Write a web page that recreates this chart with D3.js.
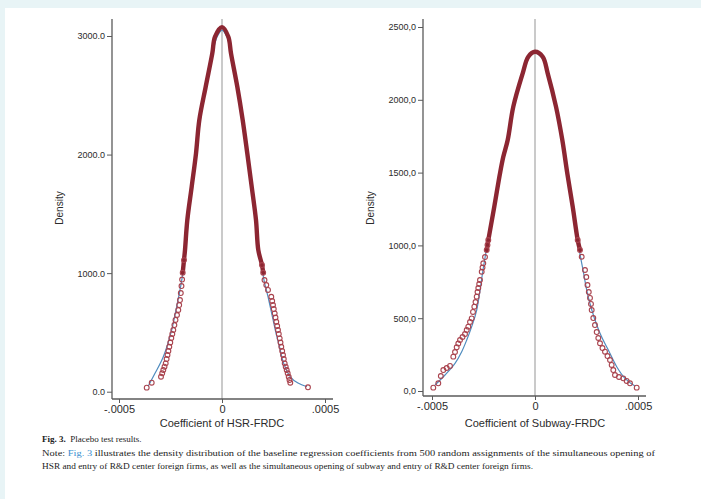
<!DOCTYPE html>
<html>
	<head>
		<style>
			body {
				margin: 0;
				background: #e8f4f6;
			}

			#chart {
				display: block;
			}
		</style>
	</head>
	<body>
		<svg id="chart" width="701" height="499"></svg>
		<script src="https://cdnjs.cloudflare.com/ajax/libs/d3/7.8.5/d3.min.js"></script>

		<script>
			// HSR-FRDC: kernel density of placebo coefficients
			let hsrKdeX = [
				-3.655e-4, -3.412e-4, -2.961e-4, -2.903e-4, -2.849e-4, -2.791e-4,
				-2.733e-4, -2.689e-4, -2.645e-4, -2.602e-4, -2.558e-4, -2.51e-4,
				-2.461e-4, -2.412e-4, -2.364e-4, -2.311e-4, -2.257e-4, -2.184e-4,
				-2.121e-4, -2.078e-4, -2.039e-4, -2.0e-4, -1.966e-4, -1.937e-4,
				-1.908e-4, -1.845e-4, -1.796e-4, -1.684e-4, -1.471e-4, -1.262e-4,
				-1.102e-4, -0.791e-4, -0.471e-4, -0.34e-4, 0, 0.306e-4, 0.437e-4,
				0.743e-4, 1.005e-4, 1.228e-4, 1.442e-4, 1.65e-4, 1.762e-4,
				1.942e-4, 2.0e-4, 2.063e-4, 2.15e-4, 2.233e-4, 2.393e-4, 2.437e-4,
				2.476e-4, 2.514e-4, 2.558e-4, 2.597e-4, 2.636e-4, 2.679e-4,
				2.718e-4, 2.757e-4, 2.801e-4, 2.84e-4, 2.878e-4, 2.922e-4,
				2.961e-4, 3.0e-4, 3.043e-4, 3.092e-4, 3.141e-4, 3.189e-4,
				3.238e-4, 3.276e-4, 3.315e-4, 4.174e-4,
			];
			let hsrKdeY = [
				34, 76, 126, 155, 183, 211, 239, 276, 309, 343, 379, 415, 453, 487,
				520, 562, 605, 647, 689, 731, 773, 832, 891, 946, 1003, 1110, 1195,
				1448, 1729, 2010, 2291, 2572, 2853, 2993, 3075, 2993, 2853, 2572,
				2291, 2010, 1729, 1448, 1195, 1068, 1003, 942, 900, 858, 801, 765,
				731, 697, 661, 626, 590, 554, 520, 487, 450, 415, 379, 343, 309,
				276, 239, 211, 183, 155, 126, 99, 76, 37,
			];
			// HSR-FRDC: normal density overlay
			let hsrNormX = [
				-3.577e-4, -3.252e-4, -2.849e-4, -2.442e-4, -2.233e-4, -2.039e-4,
				-1.893e-4, -1.747e-4, -1.578e-4, -1.408e-4, -1.214e-4, -1.044e-4,
				-0.777e-4, -0.461e-4, -0.243e-4, 0, 0.243e-4, 0.437e-4, 0.728e-4,
				0.995e-4, 1.214e-4, 1.432e-4, 1.626e-4, 1.747e-4, 1.908e-4,
				2.039e-4, 2.233e-4, 2.412e-4, 2.587e-4, 2.791e-4, 2.995e-4,
				3.315e-4, 3.689e-4, 4.126e-4,
			];
			let hsrNormY = [
				48, 155, 295, 520, 689, 858, 1009, 1237, 1540, 1785, 2038, 2308,
				2578, 2847, 2991, 3050, 2991, 2847, 2578, 2308, 2038, 1785, 1540,
				1237, 1083, 942, 801, 661, 520, 379, 239, 126, 73, 42,
			];

			// Subway-FRDC: kernel density
			let subKdeX = [
				-4.937e-4, -4.694e-4, -4.572e-4, -4.451e-4, -4.288e-4, -4.126e-4,
				-3.966e-4, -3.883e-4, -3.801e-4, -3.723e-4, -3.641e-4, -3.519e-4,
				-3.398e-4, -3.315e-4, -3.238e-4, -3.155e-4, -3.073e-4, -3.01e-4,
				-2.946e-4, -2.888e-4, -2.83e-4, -2.791e-4, -2.752e-4, -2.709e-4,
				-2.67e-4, -2.587e-4, -2.548e-4, -2.51e-4, -2.427e-4, -2.344e-4,
				-2.306e-4, -2.267e-4, -1.976e-4, -1.699e-4, -1.539e-4, -1.325e-4,
				-1.053e-4, -0.597e-4, -0.325e-4, 0, 0.374e-4, 0.616e-4, 1.019e-4,
				1.325e-4, 1.568e-4, 1.83e-4, 2.073e-4, 2.184e-4, 2.267e-4,
				2.427e-4, 2.49e-4, 2.548e-4, 2.611e-4, 2.67e-4, 2.718e-4, 2.752e-4,
				2.83e-4, 2.912e-4, 2.995e-4, 3.073e-4, 3.155e-4, 3.276e-4,
				3.398e-4, 3.519e-4, 3.641e-4, 3.722e-4, 3.801e-4, 3.883e-4,
				4.077e-4, 4.286e-4, 4.451e-4, 4.611e-4, 4.937e-4,
			];
			let subKdeY = [
				23, 53, 103, 144, 158, 172, 236, 268, 300, 326, 350, 371, 391, 419,
				442, 474, 499, 543, 579, 611, 648, 680, 707, 735, 762, 819, 848, 877,
				920, 968, 1003, 1037, 1266, 1495, 1609, 1724, 1953, 2182, 2296, 2330,
				2296, 2182, 1953, 1724, 1495, 1266, 1037, 968, 922, 831, 783, 728,
				680, 639, 598, 556, 501, 453, 405, 364, 328, 295, 270, 240, 213, 179,
				144, 110, 96, 87, 69, 53, 23,
			];
			// Subway-FRDC: normal density overlay
			let subNormX = [
				-4.854e-4, -4.369e-4, -3.883e-4, -3.558e-4, -3.315e-4, -3.073e-4,
				-2.83e-4, -2.524e-4, -2.281e-4, -1.99e-4, -1.699e-4, -1.335e-4,
				-1.068e-4, -0.607e-4, -0.34e-4, 0, 0.34e-4, 0.607e-4, 1.019e-4,
				1.311e-4, 1.553e-4, 1.82e-4, 2.063e-4, 2.33e-4, 2.621e-4, 3.155e-4,
				3.558e-4, 3.966e-4, 4.369e-4, 4.854e-4,
			];
			let subNormY = [
				41, 110, 190, 270, 350, 442, 556, 831, 1037, 1271, 1504, 1724, 1951,
				2177, 2287, 2321, 2287, 2177, 1951, 1724, 1497, 1264, 1037, 831, 625,
				396, 282, 167, 87, 34,
			];

			let xTicks = [-0.0005, 0, 0.0005];
			let xTickLabels = ['-.0005', '0', '.0005'];
			let hsrYTicks = [0, 1000, 2000, 3000];
			let hsrYTickLabels = ['0.0', '1000.0', '2000.0', '3000.0'];
			let subYTicks = [0, 500, 1000, 1500, 2000, 2500];
			let subYTickLabels = ['0,0', '500,0', '1000,0', '1500,0', '2000,0', '2500,0'];

			let colors = {
				kde: '#8c2632',
				kdeMarker: '#a9434e',
				normal: '#4f8cbf',
				zero: '#b4b4b4',
				axis: '#5a5a5a',
				text: '#2b2b2b',
				link: '#3a8fcf',
			};

			let svg = d3.select('#chart');

			svg.append('rect')
				.attr('x', 5)
				.attr('y', 8)
				.attr('width', 696)
				.attr('height', 491)
				.attr('fill', '#fff');

			let panels = [
				{
					kdeX: hsrKdeX, kdeY: hsrKdeY, normX: hsrNormX, normY: hsrNormY,
					yTicks: hsrYTicks, yLabels: hsrYTickLabels, yMax: 3000,
					xRange: [119, 325], yRange: [391.7, 36],
					axisX: 112, axisY: 399, top: 19, right: 333,
					title: 'Coefficient of HSR-FRDC', yTitleX: 59,
				},
				{
					kdeX: subKdeX, kdeY: subKdeY, normX: subNormX, normY: subNormY,
					yTicks: subYTicks, yLabels: subYTickLabels, yMax: 2500,
					xRange: [432, 638], yRange: [391, 27],
					axisX: 423, axisY: 396, top: 19, right: 646,
					title: 'Coefficient of Subway-FRDC', yTitleX: 370,
				},
			];

			panels.forEach(drawPanel);

			function drawPanel(p) {
				let x = d3.scaleLinear().domain([-0.0005, 0.0005]).range(p.xRange);
				let y = d3.scaleLinear().domain([0, p.yMax]).range(p.yRange);

				let g = svg.append('g');

				// reference line at zero
				g.append('line')
					.attr('x1', x(0))
					.attr('x2', x(0))
					.attr('y1', p.top)
					.attr('y2', p.axisY)
					.attr('stroke', colors.zero)
					.attr('stroke-width', 1.4);

				// y axis
				let yAxis = g.append('g')
					.attr('transform', `translate(${p.axisX},0)`)
					.call(
						d3.axisLeft(y)
							.tickValues(p.yTicks)
							.tickFormat((d, i) => p.yLabels[i])
							.tickSize(5)
							.tickPadding(2)
					);
				yAxis.select('.domain').remove();
				yAxis.append('line')
					.attr('y1', p.top)
					.attr('y2', p.axisY)
					.attr('stroke', colors.axis)
					.attr('stroke-width', 1.3);

				// x axis
				let xAxis = g.append('g')
					.attr('transform', `translate(0,${p.axisY})`)
					.call(
						d3.axisBottom(x)
							.tickValues(xTicks)
							.tickFormat((d, i) => xTickLabels[i])
							.tickSize(4)
							.tickPadding(2)
					);
				xAxis.select('.domain').remove();
				xAxis.append('line')
					.attr('x1', p.axisX)
					.attr('x2', p.right)
					.attr('stroke', colors.axis)
					.attr('stroke-width', 1.3);

				g.selectAll('.tick line')
					.attr('stroke', colors.axis)
					.attr('stroke-width', 1);
				yAxis.selectAll('text')
					.attr('font-family', 'Liberation Sans, Arial, sans-serif')
					.attr('font-size', 9)
					.attr('fill', colors.text);
				xAxis.selectAll('text')
					.attr('font-family', 'Liberation Sans, Arial, sans-serif')
					.attr('font-size', 11)
					.attr('fill', colors.text);

				// axis titles
				g.append('text')
					.attr('x', (p.xRange[0] + p.xRange[1]) / 2)
					.attr('y', 427)
					.attr('text-anchor', 'middle')
					.attr('font-family', 'Liberation Sans, Arial, sans-serif')
					.attr('font-size', 11)
					.attr('fill', colors.text)
					.text(p.title);

				g.append('text')
					.attr('transform', `translate(${p.yTitleX},208) rotate(-90)`)
					.attr('text-anchor', 'middle')
					.attr('dy', '0.35em')
					.attr('font-family', 'Liberation Sans, Arial, sans-serif')
					.attr('font-size', 10)
					.attr('fill', colors.text)
					.text('Density');

				// normal density
				let normPts = p.normX.map((v, i) => [v, p.normY[i]]);
				g.append('path')
					.datum(normPts)
					.attr('fill', 'none')
					.attr('stroke', colors.normal)
					.attr('stroke-width', 1.2)
					.attr('d', d3.line()
						.x(d => x(d[0]))
						.y(d => y(d[1]))
						.curve(d3.curveCatmullRom));

				// kernel density: dense centre reads as a thick line, tails as markers
				let kdePts = p.kdeX.map((v, i) => [v, p.kdeY[i]]);
				let first = kdePts.findIndex(d => d[1] >= 950);
				let last = kdePts.length - 1 - [...kdePts].reverse().findIndex(d => d[1] >= 950);
				g.append('path')
					.datum(kdePts.slice(first, last + 1))
					.attr('fill', 'none')
					.attr('stroke', colors.kde)
					.attr('stroke-width', 4.4)
					.attr('stroke-linejoin', 'round')
					.attr('stroke-linecap', 'round')
					.attr('d', d3.line()
						.x(d => x(d[0]))
						.y(d => y(d[1]))
						.curve(d3.curveCatmullRom));

				g.selectAll('circle')
					.data(kdePts.filter(d => d[1] < 1150))
					.enter()
					.append('circle')
					.attr('cx', d => x(d[0]))
					.attr('cy', d => y(d[1]))
					.attr('r', 2.4)
					.attr('fill', 'none')
					.attr('stroke', colors.kdeMarker)
					.attr('stroke-width', 1.1);
			}

			// caption
			let cap = svg.append('g')
				.attr('font-family', 'Liberation Serif, Times New Roman, serif')
				.attr('font-size', 9)
				.attr('fill', '#222');

			let line1 = cap.append('text').attr('x', 42).attr('y', 442);
			line1.append('tspan').attr('font-weight', 'bold').text('Fig. 3.');
			line1.append('tspan').text('\u2002Placebo test results.');

			let line2 = cap.append('text')
				.attr('x', 42)
				.attr('y', 456)
				.attr('textLength', 613)
				.attr('lengthAdjust', 'spacingAndGlyphs');
			line2.append('tspan').text('Note: ');
			line2.append('tspan').attr('fill', colors.link).text('Fig. 3');
			line2.append('tspan').text(
				' illustrates the density distribution of the baseline regression coefficients from 500 random assignments of the simultaneous opening of'
			);

			cap.append('text')
				.attr('x', 42)
				.attr('y', 469)
				.attr('textLength', 491)
				.attr('lengthAdjust', 'spacingAndGlyphs')
				.text(
					'HSR and entry of R&D center foreign firms, as well as the simultaneous opening of subway and entry of R&D center foreign firms.'
				);
		</script>
	</body>
</html>
